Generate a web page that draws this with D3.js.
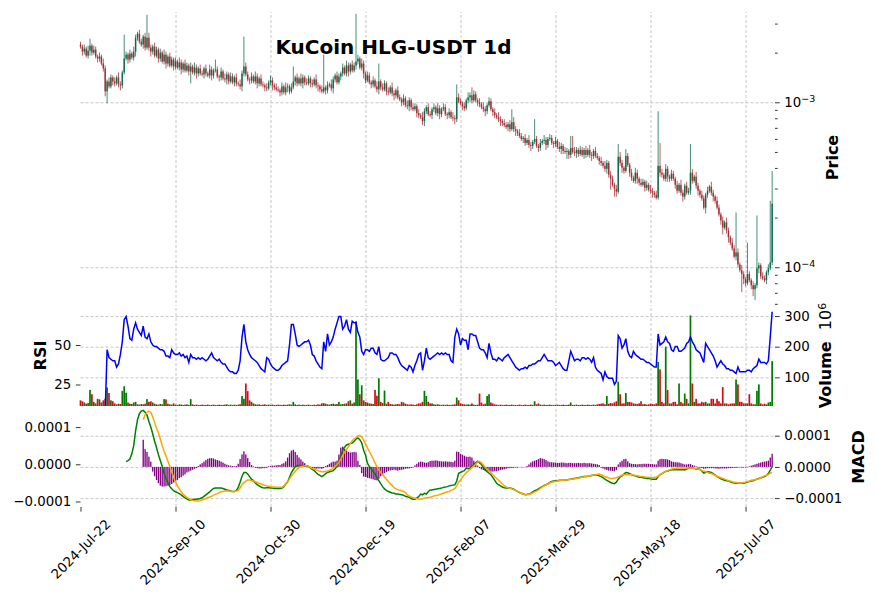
<!doctype html>
<html>
<head>
<meta charset="utf-8">
<script src="https://d3js.org/d3.v7.min.js"></script>
<style>
body { margin: 0; background: #fff; }
svg { font-family: "DejaVu Sans", sans-serif; }
.tick text { font-size: 13.33px; font-family: "DejaVu Sans", sans-serif; fill: #000; }
.tick line { stroke: #000; stroke-width: 0.8; }
.grid .tick line { stroke: #b8b8b8; stroke-width: 0.8; stroke-dasharray: 3,2; }
.lbl { font-weight: bold; font-size: 16px; fill: #000; }
</style>
</head>
<body>
<svg width="877" height="600"></svg>
<script>
// KuCoin HLG-USDT daily, 2024-07-22 .. 2025-07-21 (index axis, one bar per day)
const tickIdx = [0, 50, 100, 150, 200, 250, 300, 350];
const tickDates = ["2024-Jul-22", "2024-Sep-10", "2024-Oct-30", "2024-Dec-19",
                   "2025-Feb-07", "2025-Mar-29", "2025-May-18", "2025-Jul-07"];

// prices in micro-USDT (1e-6)
const open = [
2236,2175,2029,2115,1919,2057,2205,2001,2086,1893,
1841,1893,1718,1603,1165,1338,1249,1415,1338,1302,
1415,1284,1266,1516,1841,1946,1816,1973,1867,2029,
2464,2604,2331,2236,2498,2145,2464,2145,2029,2175,
1919,2086,1841,2001,1766,1946,1718,1893,1671,1816,
1648,1766,1625,1742,1581,1718,1559,1671,1537,1648,
1516,1625,1495,1603,1495,1475,1603,1495,1454,1581,
1454,1559,1581,1434,1415,1537,1395,1376,1475,1338,
1434,1320,1415,1302,1284,1249,1495,1648,1475,1376,
1357,1434,1338,1434,1302,1395,1284,1266,1231,1214,
1320,1357,1266,1231,1198,1181,1149,1249,1149,1231,
1249,1165,1231,1338,1415,1302,1395,1302,1415,1320,
1302,1395,1302,1284,1376,1266,1249,1198,1165,1231,
1181,1266,1284,1214,1376,1454,1320,1434,1495,1625,
1495,1671,1537,1694,1559,1671,1766,1841,1625,1718,
1495,1357,1454,1320,1284,1357,1249,1198,1338,1231,
1198,1302,1165,1149,1231,1133,1102,1181,1072,1042,
1000,1057,959,946,1028,933,908,946,859,835,
812,769,883,933,847,835,908,933,859,920,
847,908,933,847,835,871,812,801,790,1072,
1014,986,946,920,1028,1072,1102,1028,1117,1028,
1000,973,933,908,883,959,1014,908,871,835,
812,790,769,748,727,707,737,688,758,688,
669,651,625,599,608,567,591,551,544,575,
599,544,529,567,583,591,551,599,608,567,
559,583,536,521,544,507,500,507,480,529,
500,493,514,486,514,480,514,480,514,480,
473,507,473,460,441,429,412,395,429,364,
344,316,299,287,467,429,401,384,473,418,
374,349,334,374,344,325,316,330,303,316,
295,291,283,275,264,412,374,364,344,395,
354,344,369,344,316,291,316,283,268,312,
283,291,374,334,354,312,291,275,261,230,
275,291,308,283,268,253,230,209,192,174,
187,167,152,141,130,116,123,104,96,91,
85,80,91,83.4,77.8,73.6,77.8,98.5,102.7,88.2,
85.8,83.4,93.2,98.5,107];
const high = [
2331,2236,2236,2175,2205,2430,2267,2205,2175,1946,
2001,1946,1841,1671,1376,1415,1475,1454,1415,1454,
1516,1338,1559,2568,2029,2001,2086,2029,2175,2568,
2677,2753,2430,2568,2640,3390,2640,2236,2236,2299,
2175,2145,2115,2057,2086,2029,1946,2001,1893,1867,
1867,1816,1867,1816,1766,1816,1742,1718,1742,1694,
1742,1694,1648,1694,1559,1648,1694,1537,1694,1648,
1603,1816,1648,1475,1625,1581,1495,1537,1516,1516,
1495,1454,1495,1338,1376,1559,2498,1742,1537,1415,
1516,1475,1537,1495,1434,1475,1338,1302,1302,1357,
1454,1415,1302,1302,1249,1214,1320,1284,1320,1302,
1284,1302,1648,1454,1495,1434,1495,1475,1454,1395,
1454,1434,1376,1415,1475,1320,1284,1266,1946,1266,
1338,1320,1376,1434,1495,1537,1495,1537,1718,1671,
1791,1742,1742,1791,1742,3440,1946,1893,1841,1791,
1537,1537,1516,1357,1434,1395,1338,1718,1376,1302,
1357,1338,1231,1266,1320,1181,1214,1249,1117,1072,
1117,1087,1028,1072,1057,986,986,973,908,859,
871,920,959,986,883,933,986,959,986,959,
933,986,973,871,920,895,871,835,1284,1133,
1057,1014,1000,1057,1149,1149,1231,1181,1165,1057,
1057,1000,1000,946,986,1072,1057,933,920,859,
871,824,790,790,758,758,779,908,812,717,
688,688,651,625,642,608,633,575,591,790,
625,559,599,599,633,616,616,642,633,583,
616,599,575,567,559,536,529,521,625,625,
536,536,529,544,536,529,544,529,551,500,
521,536,493,473,467,441,441,448,441,384,
359,325,316,559,500,448,412,521,493,429,
395,359,401,390,354,344,344,339,334,325,
316,303,291,291,883,567,395,374,423,412,
364,390,384,354,334,325,339,295,321,330,
303,559,395,364,379,325,299,291,272,283,
308,316,330,295,275,268,240,215,203,192,
200,174,156,150,136,215,130,107,103,94.5,
87,141,94.5,85.8,82.3,80,206,107,105.6,93.2,
89.4,95.8,104.2,253,384];
const low = [
2115,1919,1946,1867,1841,1919,1919,1946,1841,1742,
1766,1671,1537,1087,986,1214,1214,1266,1249,1266,
1231,1181,1214,1475,1791,1718,1742,1816,1791,1893,
2363,2267,2175,2115,2057,2086,2057,1893,1946,1867,
1867,1742,1766,1718,1694,1603,1648,1625,1625,1559,
1581,1581,1559,1475,1516,1516,1516,1454,1302,1475,
1454,1395,1434,1454,1434,1395,1434,1415,1395,1357,
1395,1516,1395,1338,1357,1357,1320,1284,1284,1302,
1284,1249,1249,1249,1198,1165,1434,1434,1338,1284,
1302,1302,1284,1214,1249,1249,1231,1165,1165,1181,
1266,1181,1181,1165,1149,1087,1102,1117,1102,1149,
1117,1133,1198,1266,1249,1266,1249,1214,1266,1266,
1266,1231,1231,1249,1214,1165,1149,1133,1133,1117,
1133,1231,1165,1133,1320,1284,1284,1357,1434,1454,
1434,1434,1475,1516,1516,1581,1694,1581,1559,1395,
1302,1320,1284,1214,1231,1214,1149,1117,1181,1165,
1165,1102,1102,1117,1087,1028,1057,1042,1014,946,
959,933,908,883,895,883,883,812,801,790,
727,717,847,824,812,790,871,835,824,790,
812,883,824,790,801,790,769,737,758,986,
959,895,883,895,986,1000,986,1000,1000,946,
933,908,871,824,847,933,883,824,801,790,
758,717,717,707,688,669,660,669,660,625,
625,608,583,567,544,551,529,507,521,559,
529,500,507,551,559,514,529,583,551,529,
536,521,500,486,486,486,454,454,460,486,
473,460,467,473,467,454,460,467,460,441,
454,460,448,418,412,401,379,369,349,295,
308,268,268,279,412,374,369,374,406,354,
334,325,321,321,312,308,308,287,291,287,
279,264,264,257,257,354,349,334,330,330,
330,334,334,299,279,283,272,250,257,275,
275,275,321,325,299,272,264,253,224,212,
264,283,272,250,243,224,203,181,158,169,
160,141,136,126,113,110,100,93.2,70.6,78.9,
76.8,77.8,81.1,73.6,66.8,63.2,74.7,91.9,84.6,83.4,
81.1,78.9,89.4,95.8,102.7];
const close = [
2175,2029,2115,1919,2057,2205,2001,2086,1893,1841,
1893,1718,1603,1165,1338,1249,1415,1338,1302,1415,
1284,1266,1516,1841,1946,1816,1973,1867,2029,2464,
2604,2331,2236,2498,2145,2464,2145,2029,2175,1919,
2086,1841,2001,1766,1946,1718,1893,1671,1816,1648,
1766,1625,1742,1581,1718,1559,1671,1537,1648,1516,
1625,1495,1603,1495,1475,1603,1495,1454,1581,1454,
1559,1581,1434,1415,1537,1395,1376,1475,1338,1434,
1320,1415,1302,1284,1249,1495,1648,1475,1376,1357,
1434,1338,1434,1302,1395,1284,1266,1231,1214,1320,
1357,1266,1231,1198,1181,1149,1249,1149,1231,1249,
1165,1231,1338,1415,1302,1395,1302,1415,1320,1302,
1395,1302,1284,1376,1266,1249,1198,1165,1231,1181,
1266,1284,1214,1376,1454,1320,1434,1495,1625,1495,
1671,1537,1694,1559,1671,1766,1841,1625,1718,1495,
1357,1454,1320,1284,1357,1249,1198,1338,1231,1198,
1302,1165,1149,1231,1133,1102,1181,1072,1042,1000,
1057,959,946,1028,933,908,946,859,835,812,
769,883,933,847,835,908,933,859,920,847,
908,933,847,835,871,812,801,790,1072,1014,
986,946,920,1028,1072,1102,1028,1117,1028,1000,
973,933,908,883,959,1014,908,871,835,812,
790,769,748,727,707,737,688,758,688,669,
651,625,599,608,567,591,551,544,575,599,
544,529,567,583,591,551,599,608,567,559,
583,536,521,544,507,500,507,480,529,500,
493,514,486,514,480,514,480,514,480,473,
507,473,460,441,429,412,395,429,364,344,
316,299,287,467,429,401,384,473,418,374,
349,334,374,344,325,316,330,303,316,295,
291,283,275,264,412,374,364,344,395,354,
344,369,344,316,291,316,283,268,312,283,
291,374,334,354,312,291,275,261,230,275,
291,308,283,268,253,230,209,192,174,187,
167,152,141,130,116,123,104,96,91,85,
80,91,83.4,77.8,73.6,77.8,98.5,102.7,88.2,85.8,
83.4,93.2,98.5,107,243];

// volume in millions
const volume = [
25,22,18,14,16,59,45,20,15,30,
28,18,25,30,67,49,25,22,15,12,
14,13,56,71,50,18,14,13,18,20,
12,11,13,12,14,29,20,22,18,14,
12,11,13,12,29,28,14,12,11,15,
11,10,12,11,10,11,12,10,29,12,
10,11,10,10,11,10,10,11,10,10,
11,10,10,11,10,10,11,12,10,11,
10,11,10,11,12,39,30,80,55,25,
20,15,12,11,12,10,11,12,10,11,
10,11,10,10,11,10,10,11,10,11,
12,11,20,12,10,11,10,11,10,10,
11,10,10,11,10,12,11,15,16,14,
12,11,13,14,12,13,20,12,13,14,
15,22,25,14,18,283,93,45,74,25,
20,18,15,14,13,59,40,97,20,16,
57,14,20,13,12,11,12,13,12,20,
18,14,12,11,12,11,10,12,15,15,
20,56,39,20,15,15,12,11,12,11,
10,11,10,11,10,10,11,12,34,25,
15,13,12,11,12,11,15,11,10,11,
47,18,12,14,39,45,18,15,12,11,
10,11,10,10,11,10,10,11,10,10,
10,11,10,10,11,10,10,11,10,22,
12,15,11,10,11,10,10,11,10,10,
10,11,10,10,11,10,10,11,18,10,
10,11,10,10,11,10,10,11,10,10,
11,10,12,13,14,15,12,39,14,16,
15,18,22,86,45,15,15,49,20,20,
18,15,14,13,15,22,12,13,11,12,
14,13,12,15,150,126,20,15,200,59,
15,15,20,20,12,80,20,15,47,30,
15,302,80,20,30,15,15,20,18,20,
15,15,30,30,15,30,22,15,68,15,
15,12,14,15,15,93,77,20,20,15,
15,15,45,15,12,12,56,77,15,12,
14,12,18,20,153];

const rsi = [
null,null,null,null,null,null,null,null,null,null,
null,null,null,8,47,42,41,40,40,36,
38,44,52,66,68,62,54,53,60,64,
60,58,56,62,55,54,57,52,50,49,
49,48,47,47,46,43,43,42,47,45,
44,44,45,43,44,42,43,39,44,42,
42,41,42,41,42,41,40,41,43,45,
42,41,40,41,39,38,38,36,34,33,
33,32,32,34,40,55,63,52,47,44,
42,41,40,39,37,35,34,33,42,41,
38,36,35,34,34,35,37,38,39,40,
50,63,63,57,50,49,50,51,52,52,
53,50,44,43,40,38,36,35,52,46,
57,50,52,55,60,64,68,68,60,62,
66,60,58,65,64,64,58,55,46,44,
47,47,46,48,48,45,44,49,41,40,
40,41,42,45,45,44,44,42,39,37,
36,35,34,37,36,33,37,40,44,45,
34,40,48,42,41,42,43,44,45,44,
45,44,45,44,44,40,39,55,60,57,
50,54,53,53,47,57,57,56,56,52,
48,47,47,45,42,51,45,41,41,40,
42,41,40,42,43,44,42,40,38,36,
35,34,35,35,36,35,37,37,38,38,
39,40,40,42,44,42,40,40,40,39,
37,38,39,37,35,34,34,40,46,43,
40,41,41,40,42,42,41,42,41,39,
42,36,34,33,32,28,33,30,29,29,
29,25,27,56,54,48,50,54,46,43,
42,46,44,43,42,41,41,40,39,39,
38,37,36,36,57,50,51,52,55,52,
51,47,46,49,49,46,46,47,48,51,
52,55,52,50,47,46,45,42,39,51,
49,47,45,43,40,36,38,40,38,37,
35,35,34,34,33,32,36,33,33,33,
33,34,34,33,35,36,37,41,39,39,
39,38,40,55,71];

// MACD values in micro units (1e-6)
const macd = [
null,null,null,null,null,null,null,null,null,null,
null,null,null,null,null,null,null,null,null,null,
null,null,null,null,7,10,14,28,50,90,
120,136,143,145,140,132,115,100,82,62,
45,26,10,-5,-25,-38,-50,-60,-66,-71,
-74,-76,-79,-82,-86,-90,-93,-96,-96,-95,
-94,-94,-93,-92,-90,-86,-82,-78,-74,-69,
-65,-64,-64,-64,-64,-65,-67,-69,-70,-72,
-73,-73,-71,-62,-48,-32,-22,-22,-26,-33,
-40,-44,-50,-55,-58,-61,-63,-64,-63,-63,
-64,-64,-65,-65,-65,-65,-64,-60,-53,-48,
-35,-22,-14,-6,-4,-3,-3,-3,-4,-4,
-6,-10,-14,-17,-22,-27,-30,-33,-30,-25,
-22,-20,-19,-17,-12,-5,8,22,38,46,
52,54,56,57,62,68,71,66,58,38,
25,3,-6,-12,-19,-26,-36,-44,-52,-60,
-66,-70,-73,-75,-77,-78,-80,-80,-81,-82,
-83,-86,-87,-89,-92,-94,-94,-90,-87,-80,
-82,-78,-80,-74,-69,-69,-68,-67,-66,-65,
-64,-62,-61,-60,-58,-57,-56,-55,-45,-24,
-22,-19,-17,-10,-12,-10,-5,-1,4,8,
4,0,-8,-16,-20,-24,-28,-35,-43,-51,
-55,-58,-61,-63,-64,-63,-64,-65,-67,-70,
-73,-76,-78,-80,-82,-81,-80,-78,-74,-71,
-69,-66,-63,-60,-57,-55,-52,-49,-46,-45,
-44,-44,-43,-43,-43,-42,-42,-41,-40,-39,
-38,-37,-36,-35,-34,-33,-33,-32,-31,-30,
-29,-28,-29,-31,-33,-36,-40,-43,-46,-49,
-51,-52,-48,-40,-34,-31,-26,-22,-23,-25,
-28,-30,-31,-33,-35,-35,-36,-37,-38,-38,
-39,-40,-40,-40,-33,-28,-25,-22,-19,-18,
-16,-15,-15,-15,-15,-15,-15,-14,-15,-13,
-11,-9,-10,-11,-13,-12,-14,-18,-24,-22,
-20,-21,-22,-25,-29,-33,-36,-39,-41,-43,
-44,-45,-47,-49,-50,-51,-51,-51,-51,-51,
-50,-48,-46,-45,-44,-42,-40,-38,-36,-35,
-33,-30,-25,-16,-6];
const signal = [
null,null,null,null,null,null,null,null,null,null,
null,null,null,null,null,null,null,null,null,null,
null,null,null,null,null,null,null,null,null,null,
null,null,null,120,133,140,143,140,128,112,
97,85,68,50,35,22,8,-5,-20,-35,
-48,-58,-66,-74,-80,-85,-89,-92,-95,-97,
-98,-99,-99,-98,-96,-94,-92,-90,-88,-86,
-83,-81,-79,-76,-74,-73,-72,-72,-72,-73,
-73,-73,-72,-70,-63,-55,-50,-45,-42,-42,
-44,-45,-47,-49,-51,-53,-55,-57,-58,-59,
-60,-61,-61,-62,-62,-62,-62,-58,-52,-46,
-40,-32,-25,-19,-13,-9,-6,-5,-4,-4,
-5,-8,-11,-13,-15,-17,-19,-20,-20,-19,
-18,-16,-14,-10,-6,-1,5,14,24,33,
40,47,56,63,68,72,76,77,74,65,
55,44,35,25,15,4,-6,-15,-22,-28,
-34,-40,-46,-52,-57,-63,-66,-68,-70,-71,
-73,-76,-82,-85,-88,-90,-91,-92,-93,-94,
-93,-91,-90,-89,-89,-87,-85,-84,-83,-81,
-80,-78,-76,-74,-73,-70,-68,-65,-58,-48,
-42,-35,-29,-23,-18,-14,-9,-4,0,6,
8,4,-2,-8,-13,-18,-23,-28,-33,-38,
-43,-48,-53,-57,-61,-63,-64,-66,-68,-70,
-73,-76,-78,-80,-81,-81,-81,-79,-77,-74,
-72,-69,-65,-61,-58,-55,-53,-50,-48,-47,
-46,-45,-44,-43,-43,-42,-42,-41,-40,-40,
-39,-38,-37,-36,-35,-34,-33,-32,-31,-30,
-29,-28,-27,-26,-28,-30,-33,-35,-37,-38,
-38,-37,-36,-34,-32,-29,-28,-28,-28,-28,
-28,-29,-30,-31,-32,-33,-33,-34,-35,-35,
-36,-36,-35,-34,-32,-28,-25,-22,-19,-17,
-15,-13,-12,-11,-11,-10,-10,-10,-10,-10,
-10,-10,-10,-11,-12,-13,-15,-17,-18,-20,
-22,-24,-25,-27,-30,-32,-34,-36,-38,-40,
-42,-44,-45,-47,-48,-49,-50,-50,-50,-49,
-48,-46,-45,-43,-42,-41,-40,-39,-37,-34,
-31,-29,-27,-24,-22];
const hist = [
null,null,null,null,null,null,null,null,null,null,
null,null,null,null,null,null,null,null,null,null,
null,null,null,null,null,null,null,null,null,null,
null,null,null,87,57,48,33,17,-15,-30,
-42,-52,-60,-63,-63,-62,-60,-58,-55,-50,
-47,-42,-36,-33,-28,-24,-18,-15,-12,-9,
-6,-4,3,8,12,17,22,26,28,28,
27,24,22,20,17,14,10,7,5,4,
3,2,3,10,25,40,50,40,28,16,
6,2,-3,-4,-5,-5,-4,-4,-3,2,
3,4,4,5,6,6,10,12,18,30,
44,52,55,48,38,30,24,17,12,6,
3,-2,-4,-5,-6,-5,-5,-6,-4,3,
6,10,14,17,17,20,40,62,65,58,
52,48,46,47,48,47,20,6,-20,-31,
-32,-35,-36,-38,-40,-42,-43,-38,-30,-25,
-20,-16,-13,-11,-10,-9,-11,-12,-10,-9,
-8,-6,-5,-5,-3,-2,5,10,15,17,
16,14,13,15,19,20,20,21,20,18,
18,17,18,17,17,16,15,20,49,48,
42,39,36,33,32,33,30,20,8,4,
-4,-8,-10,-12,-14,-15,-15,-15,-14,-14,
-12,-10,-9,-8,-6,-4,-4,-3,-3,-2,
-2,-1,-1,-1,-1,3,8,14,18,20,
22,25,28,27,25,22,18,15,15,14,
14,13,13,14,14,13,12,13,13,12,
12,12,13,12,12,13,12,12,12,11,
10,9,8,6,-2,-5,-8,-10,-12,-12,
-13,-14,-10,8,15,20,25,26,18,12,
10,9,9,8,9,9,10,10,10,10,
9,9,8,8,20,25,26,25,25,24,
22,18,16,15,15,14,12,10,8,8,
9,9,6,4,2,-2,-3,-4,-6,-5,
-4,-4,-4,-4,-5,-5,-6,-5,-5,-5,
-5,-4,-4,-3,-3,-3,-2,-2,-2,-2,
-2,-1,2,4,6,8,10,12,14,16,
17,18,20,30,42];

const U = 1e-6;
const UP = "#006340", DN = "#a02128";
const VUP = "#007a00", VDN = "#d50d18";

const svg = d3.select("svg");
const X0 = 80.5, X1 = 775;
const MAIN = [12, 303], VOL = [305, 406], MAC = [407, 507];

const x = d3.scaleLinear().domain([0, 365.5]).range([X0, X1]);
const yPrice = d3.scaleLog().domain([6.07e-5, 3.527e-3]).range([MAIN[1], MAIN[0]]);
const yVol = d3.scaleLinear().domain([6.5, 336]).range([VOL[1], VOL[0]]);
const yRsi = d3.scaleLinear().domain([11.4, 75.3]).range([VOL[1], VOL[0]]);
const yHist = d3.scaleLinear().domain([-128.5e-6, 192e-6]).range([MAC[1], MAC[0]]);
const yLine = d3.scaleLinear().domain([-114.8e-6, 154e-6]).range([MAC[1], MAC[0]]);
const step = x(1) - x(0);
const idx = d3.range(close.length);
const isUp = i => close[i] >= open[i];

const defs = svg.append("defs");
function clip(id, p) {
  defs.append("clipPath").attr("id", id).append("rect")
    .attr("x", X0 - 1.5).attr("y", p[0]).attr("width", X1 - X0 + 1.5).attr("height", p[1] - p[0]);
}
clip("cMain", MAIN); clip("cVol", VOL); clip("cMac", MAC);

// ---- grids
function vgrid(p) {
  svg.append("g").attr("class", "grid").attr("transform", `translate(0,${p[1]})`)
    .call(d3.axisBottom(x).tickValues(tickIdx.slice(1)).tickSize(-(p[1] - p[0])).tickFormat(""))
    .call(g => g.select(".domain").remove());
}
function hgrid(scale, vals) {
  svg.append("g").attr("class", "grid").attr("transform", `translate(${X0},0)`)
    .call(d3.axisLeft(scale).tickValues(vals).tickSize(-(X1 - X0)).tickFormat(""))
    .call(g => g.select(".domain").remove());
}
vgrid(MAIN); vgrid(VOL); vgrid(MAC);
hgrid(yPrice, [1e-4, 1e-3]);
hgrid(yVol, [100, 200, 300]);
hgrid(yHist, [-1e-4, 0, 1e-4]);

// ---- candles
const gC = svg.append("g").attr("clip-path", "url(#cMain)");
gC.selectAll("line").data(idx).join("line")
  .attr("x1", i => x(i)).attr("x2", i => x(i))
  .attr("y1", i => yPrice(high[i] * U)).attr("y2", i => yPrice(low[i] * U))
  .attr("stroke", i => isUp(i) ? UP : DN).attr("stroke-width", 0.9).attr("opacity", 0.8);
gC.selectAll("rect").data(idx).join("rect")
  .attr("x", i => x(i) - step * 0.4).attr("width", step * 0.8)
  .attr("y", i => yPrice(Math.max(open[i], close[i]) * U))
  .attr("height", i => Math.max(0.7, Math.abs(yPrice(open[i] * U) - yPrice(close[i] * U))))
  .attr("fill", i => isUp(i) ? UP : DN).attr("opacity", 0.85);

// ---- volume + RSI
const gV = svg.append("g").attr("clip-path", "url(#cVol)");
gV.selectAll("rect").data(idx).join("rect")
  .attr("x", i => x(i) - step * 0.45).attr("width", step * 0.9)
  .attr("y", i => yVol(volume[i])).attr("height", i => VOL[1] - yVol(volume[i]) + 1)
  .attr("fill", i => isUp(i) ? VUP : VDN);
gV.append("path").datum(rsi)
  .attr("d", d3.line().defined(d => d != null).x((d, i) => x(i)).y(d => yRsi(d)))
  .attr("fill", "none").attr("stroke", "#0000ff").attr("stroke-width", 1.5);

// ---- MACD
const gM = svg.append("g").attr("clip-path", "url(#cMac)");
gM.selectAll("rect").data(idx.filter(i => hist[i] != null)).join("rect")
  .attr("x", i => x(i) - step * 0.35).attr("width", step * 0.7)
  .attr("y", i => Math.min(yHist(0), yHist(hist[i] * U)))
  .attr("height", i => Math.abs(yHist(hist[i] * U) - yHist(0)))
  .attr("fill", "#800080");
const ln = d3.line().defined(d => d != null).x((d, i) => x(i)).y(d => yLine(d * U));
gM.append("path").datum(macd).attr("d", ln).attr("fill", "none").attr("stroke", "#008000").attr("stroke-width", 1.5);
gM.append("path").datum(signal).attr("d", ln).attr("fill", "none").attr("stroke", "#ffa500").attr("stroke-width", 1.5);

// ---- axes
const TS = 4.67, PAD = 4.67;
function axis(gen, tx, ty) {
  return svg.append("g").attr("transform", `translate(${tx},${ty})`)
    .call(gen).call(g => g.select(".domain").remove())
    .attr("font-size", null).attr("font-family", null);
}
const minor = [6e-5, 7e-5, 8e-5, 9e-5, 2e-4, 3e-4, 4e-4, 5e-4, 6e-4, 7e-4, 8e-4, 9e-4, 2e-3, 3e-3];
axis(d3.axisRight(yPrice).tickValues(minor).tickSize(2.67).tickFormat(""), X1, 0);
const gP = axis(d3.axisRight(yPrice).tickValues([1e-4, 1e-3]).tickSize(TS).tickPadding(PAD).tickFormat(""), X1, 0);
gP.selectAll(".tick text").each(function (d) {
  const t = d3.select(this);
  t.append("tspan").text("10");
  t.append("tspan").attr("dy", "-0.5em").style("font-size", "9.5px").text("\u2212" + Math.round(-Math.log10(d)));
});
axis(d3.axisRight(yVol).tickValues([100, 200, 300]).tickSize(TS).tickPadding(PAD).tickFormat(d3.format("d")), X1, 0);
axis(d3.axisLeft(yRsi).tickValues([25, 50]).tickSize(TS).tickPadding(PAD).tickFormat(d3.format("d")), X0, 0);
const fm = d => (d < 0 ? "\u2212" : "") + Math.abs(d).toFixed(4);
axis(d3.axisRight(yHist).tickValues([-1e-4, 0, 1e-4]).tickSize(TS).tickPadding(PAD).tickFormat(fm), X1, 0);
axis(d3.axisLeft(yLine).tickValues([-1e-4, 0, 1e-4]).tickSize(TS).tickPadding(PAD).tickFormat(fm), X0, 0);
const gX = axis(d3.axisBottom(x).tickValues(tickIdx).tickSize(TS).tickFormat((d, i) => tickDates[i]), 0, MAC[1]);
gX.selectAll(".tick text")
  .attr("x", 0).attr("y", 0).attr("dy", null)
  .attr("text-anchor", "end")
  .attr("transform", "translate(30.4,18.1) rotate(-45)");

// ---- labels
svg.append("text").attr("x", 393.5).attr("y", 54).attr("text-anchor", "middle")
  .attr("font-weight", "bold").attr("font-size", "20px").text("KuCoin HLG-USDT 1d");
svg.append("text").attr("class", "lbl").attr("text-anchor", "middle")
  .attr("transform", `translate(838,${(MAIN[0] + MAIN[1]) / 2}) rotate(-90)`).text("Price");
const vl = svg.append("text").attr("class", "lbl").attr("text-anchor", "middle")
  .attr("transform", `translate(831,${(VOL[0] + VOL[1]) / 2}) rotate(-90)`);
vl.append("tspan").text("Volume\u00a0\u00a0");
vl.append("tspan").attr("font-weight", "normal").text("10");
vl.append("tspan").attr("font-weight", "normal").attr("dy", "-0.5em").style("font-size", "11px").text("6");
svg.append("text").attr("class", "lbl").attr("text-anchor", "middle")
  .attr("transform", `translate(45.5,${(VOL[0] + VOL[1]) / 2}) rotate(-90)`).text("RSI");
svg.append("text").attr("class", "lbl").attr("text-anchor", "middle")
  .attr("transform", `translate(864,${(MAC[0] + MAC[1]) / 2}) rotate(-90)`).text("MACD");
</script>
</body>
</html>
